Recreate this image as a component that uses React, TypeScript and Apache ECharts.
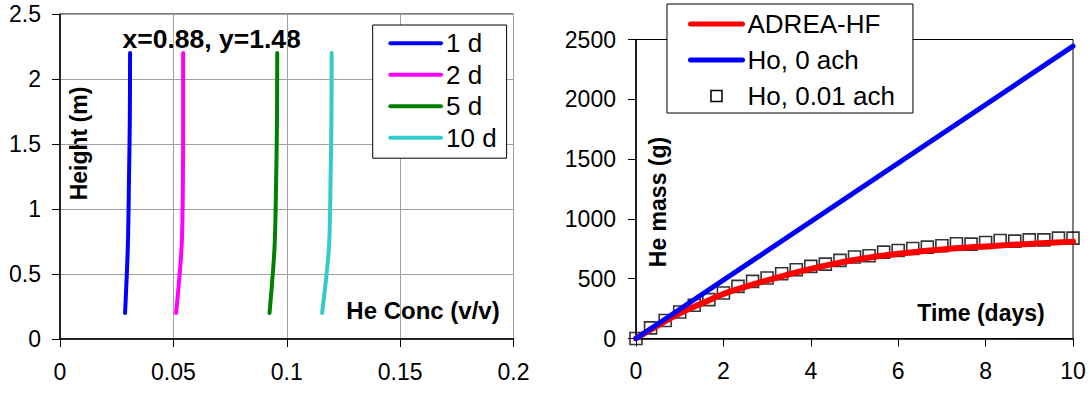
import React, { useEffect, useRef } from "react";
import * as echarts from "echarts";

// ---------- Left chart data ----------
const heights = [0.2, 0.7, 1.2, 1.7, 2.2];
const conc1d = [0.0287, 0.0299, 0.0304, 0.0308, 0.0309];
const conc2d = [0.0512, 0.0536, 0.0542, 0.0543, 0.0543];
const conc5d = [0.0924, 0.0946, 0.0953, 0.0957, 0.0958];
const conc10d = [0.1156, 0.1186, 0.1193, 0.1197, 0.1198];
const leftNames = ["1 d", "2 d", "5 d", "10 d"];
const leftColors = ["#0000FF", "#FF00FF", "#008000", "#33CCCC"];

// ---------- Right chart data ----------
const adreaTime = [0, 0.5, 1, 1.5, 2, 2.5, 3, 3.5, 4, 4.5, 5, 5.5, 6, 6.5, 7, 7.5, 8, 8.5, 9, 9.5, 10];
const adreaMass = [0, 110, 210, 292, 372, 432, 486, 536, 582, 622, 656, 686, 708, 728, 745, 758, 770, 781, 791, 800, 810];
const ho0Time = [0, 10];
const ho0Mass = [0, 2444];
const ho001Time = [0, 0.333, 0.667, 1, 1.333, 1.667, 2, 2.333, 2.667, 3, 3.333, 3.667, 4, 4.333, 4.667, 5, 5.333, 5.667, 6, 6.333, 6.667, 7, 7.333, 7.667, 8, 8.333, 8.667, 9, 9.333, 9.667, 10];
const ho001Mass = [0, 89, 150, 222, 278, 325, 381, 436, 478, 506, 542, 575, 603, 622, 653, 681, 692, 722, 736, 753, 764, 775, 792, 789, 803, 819, 814, 825, 825, 839, 839];
const rightNames = ["ADREA-HF", "Ho, 0 ach", "Ho, 0.01 ach"];

const FONT = '"Liberation Sans", Arial, Helvetica, sans-serif';

const zip = (xs: number[], ys: number[]) => xs.map((x, i) => [x, ys[i]]);
const plain = (v: number) => String(v);

export default function App() {
  const ref = useRef<HTMLDivElement>(null);
  useEffect(() => {
    if (!ref.current) return;
    const chart = echarts.init(ref.current, undefined, { renderer: "svg" });

    const axisCommon = {
      axisLine: { show: true, lineStyle: { color: "#000", width: 1.5 } },
      axisTick: { show: true, inside: false, length: 8, lineStyle: { color: "#000", width: 1 } },
    };
    const labelStyle = { color: "#000", fontSize: 23, fontFamily: FONT, formatter: plain };
    const hidden = { opacity: 0 };

    const leftConcs = [conc1d, conc2d, conc5d, conc10d];

    const option: any = {
      animation: false,
      backgroundColor: "#fff",
      grid: [
        { left: 60, top: 14, width: 453.5, height: 325, show: true, borderColor: "#000", borderWidth: 1, backgroundColor: "transparent" },
        { left: 636, top: 39.5, width: 437, height: 299, show: true, borderColor: "#000", borderWidth: 1, backgroundColor: "transparent" },
      ],
      xAxis: [
        {
          gridIndex: 0, type: "value", min: 0, max: 0.2, interval: 0.05,
          ...axisCommon,
          axisLabel: { ...labelStyle, margin: 21 },
          splitLine: { show: true, lineStyle: { color: "#A0A0A0", width: 1 } },
        },
        {
          gridIndex: 1, type: "value", min: 0, max: 10, interval: 2,
          ...axisCommon,
          axisLabel: { ...labelStyle, margin: 21 },
          splitLine: { show: false },
        },
      ],
      yAxis: [
        {
          gridIndex: 0, type: "value", min: 0, max: 2.5, interval: 0.5,
          ...axisCommon,
          axisLabel: { ...labelStyle, margin: 19 },
          splitLine: { show: true, lineStyle: { color: "#A0A0A0", width: 1 } },
        },
        {
          gridIndex: 1, type: "value", min: 0, max: 2500, interval: 500,
          ...axisCommon,
          axisLabel: { ...labelStyle, margin: 20 },
          splitLine: { show: false },
        },
      ],
      legend: [
        {
          data: leftNames.map((n) => ({ name: n, itemStyle: hidden })),
          orient: "vertical",
          left: 372.7,
          top: 25,
          padding: [5.2, 10, 7.5, 15.6],
          itemGap: 5.5,
          itemWidth: 50.7,
          itemHeight: 10,
          itemTextGap: 6,
          backgroundColor: "#fff",
          borderColor: "#000",
          borderWidth: 1,
          borderRadius: 0,
          lineStyle: { width: 4, cap: "round" },
          textStyle: { color: "#000", fontSize: 26, fontFamily: FONT, lineHeight: 26 },
          selectedMode: false,
        },
        {
          data: [
            { name: rightNames[0], itemStyle: hidden },
            { name: rightNames[1], itemStyle: hidden },
            {
              name: rightNames[2],
              icon: "path://M0,0L10,0L10,10L0,10Z",
              itemStyle: { color: "rgba(255,255,255,0)", borderColor: "#000", borderWidth: 1.5, opacity: 1 },
            },
          ],
          orient: "vertical",
          left: 667,
          top: 4,
          padding: [7, 18, 4, 21],
          itemGap: 10,
          itemWidth: 52,
          itemHeight: 11,
          itemTextGap: 5,
          backgroundColor: "#fff",
          borderColor: "#000",
          borderWidth: 1,
          borderRadius: 0,
          lineStyle: { width: 5, cap: "round" },
          textStyle: { color: "#000", fontSize: 26, fontFamily: FONT, lineHeight: 26 },
          selectedMode: false,
        },
      ],
      series: [
        ...leftConcs.map((c, i) => ({
          name: leftNames[i],
          type: "line",
          xAxisIndex: 0,
          yAxisIndex: 0,
          symbol: "none",
          smooth: 0.3,
          data: zip(c, heights),
          lineStyle: { color: leftColors[i], width: 4, cap: "round", join: "round" },
          itemStyle: { color: leftColors[i] },
        })),
        {
          name: rightNames[0],
          type: "line",
          xAxisIndex: 1,
          yAxisIndex: 1,
          symbol: "none",
          smooth: true,
          data: zip(adreaTime, adreaMass),
          lineStyle: { color: "#FF0000", width: 6, cap: "round" },
          itemStyle: { color: "#FF0000" },
        },
        {
          name: rightNames[1],
          type: "line",
          xAxisIndex: 1,
          yAxisIndex: 1,
          symbol: "none",
          data: zip(ho0Time, ho0Mass),
          lineStyle: { color: "#0000FF", width: 5, cap: "round" },
          itemStyle: { color: "#0000FF" },
        },
        {
          name: rightNames[2],
          type: "scatter",
          xAxisIndex: 1,
          yAxisIndex: 1,
          symbol: "rect",
          symbolSize: 12,
          data: zip(ho001Time, ho001Mass),
          itemStyle: { color: "rgba(255,255,255,0)", borderColor: "#000", borderWidth: 1.6 },
        },
      ],
      graphic: [
        {
          type: "text", x: 79.4, y: 143.5, rotation: Math.PI / 2,
          style: { text: "Height (m)", fontSize: 23, fontWeight: "bold", fontFamily: FONT, fill: "#000", align: "center", verticalAlign: "middle", textAlign: "center", textVerticalAlign: "middle" },
        },
        {
          type: "text", x: 423, y: 310,
          style: { text: "He Conc (v/v)", fontSize: 24, fontWeight: "bold", fontFamily: FONT, fill: "#000", align: "center", verticalAlign: "middle", textAlign: "center", textVerticalAlign: "middle" },
        },
        {
          type: "text", x: 211.7, y: 39.3,
          style: { text: "x=0.88, y=1.48", fontSize: 26.5, fontWeight: "bold", fontFamily: FONT, fill: "#000", align: "center", verticalAlign: "middle", textAlign: "center", textVerticalAlign: "middle" },
        },
        {
          type: "text", x: 657.5, y: 202, rotation: Math.PI / 2,
          style: { text: "He mass (g)", fontSize: 23, fontWeight: "bold", fontFamily: FONT, fill: "#000", align: "center", verticalAlign: "middle", textAlign: "center", textVerticalAlign: "middle" },
        },
        {
          type: "text", x: 981, y: 313,
          style: { text: "Time (days)", fontSize: 23, fontWeight: "bold", fontFamily: FONT, fill: "#000", align: "center", verticalAlign: "middle", textAlign: "center", textVerticalAlign: "middle" },
        },
      ],
    };

    chart.setOption(option);
    return () => chart.dispose();
  }, []);

  return (
    <div
      ref={ref}
      style={{ position: "absolute", left: 0, top: 0, width: 1090, height: 394, background: "#fff" }}
    />
  );
}
